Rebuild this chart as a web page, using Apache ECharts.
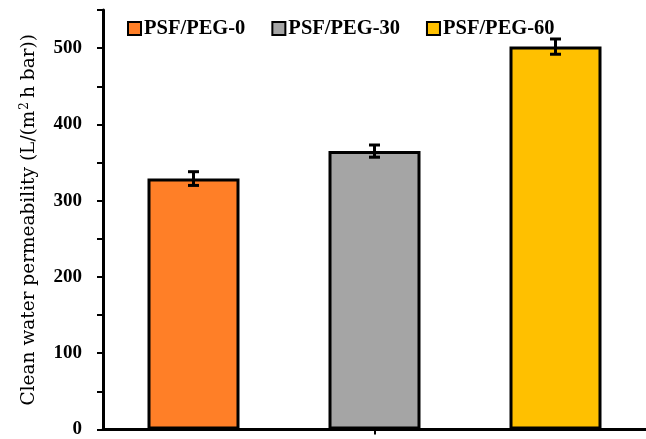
<!DOCTYPE html>
<html><head><meta charset="utf-8">
<script src="https://cdn.jsdelivr.net/npm/echarts@6/dist/echarts.min.js"></script>
<style>html,body{margin:0;padding:0;background:#fff}#c{width:646px;height:439px}</style>
</head><body><div id="c"></div>
<script>
const categories = ['PSF/PEG-0', 'PSF/PEG-30', 'PSF/PEG-60'];
const values = [329, 365, 502];
const errors = [9, 8, 10];
const colors = ['#FF7F27', '#A5A5A5', '#FFC000'];
const yTicks = [0, 100, 200, 300, 400, 500];

const chart = echarts.init(document.getElementById('c'));
const serif = 'Liberation Serif';
const series = categories.map((name, i) => ({
  name: name,
  type: 'bar',
  barWidth: 92,
  barGap: '-100%',
  itemStyle: { color: colors[i], borderColor: '#000', borderWidth: 3 },
  data: categories.map((c, j) => j === i ? values[i] : null)
}));
series.push({
  type: 'custom',
  silent: true,
  z: 10,
  data: values.map((v, i) => [i, v, errors[i]]),
  renderItem: function (params, api) {
    const x = api.value(0), v = api.value(1), e = api.value(2);
    const top = api.coord([x, v + e]);
    const bot = api.coord([x, v - e]);
    const hw = 5.5;
    const st = { stroke: '#000', lineWidth: 3 };
    return { type: 'group', children: [
      { type: 'line', shape: { x1: top[0], y1: top[1], x2: bot[0], y2: bot[1] }, style: st },
      { type: 'line', shape: { x1: top[0] - hw, y1: top[1], x2: top[0] + hw, y2: top[1] }, style: st },
      { type: 'line', shape: { x1: bot[0] - hw, y1: bot[1], x2: bot[0] + hw, y2: bot[1] }, style: st }
    ]};
  }
});

chart.setOption({
  animation: false,
  backgroundColor: '#fff',
  grid: { left: 103, width: 554, top: 10, bottom: 6, containLabel: false },
  legend: {
    top: 13, left: 122,
    itemWidth: 13, itemHeight: 13, itemGap: 26,
    icon: 'rect',
    itemStyle: { borderColor: '#000', borderWidth: 2 },
    textStyle: { fontFamily: serif, fontWeight: 'bold', fontSize: 20.5, color: '#000', padding: [0, 0, 0, -2] },
    data: categories
  },
  xAxis: {
    type: 'category',
    data: categories,
    axisLine: { lineStyle: { color: '#000', width: 3 } },
    axisTick: { show: true, alignWithLabel: true, length: 5, lineStyle: { color: '#000', width: 2 },
      interval: function (idx) { return idx === 1; } },
    axisLabel: { show: false }
  },
  yAxis: {
    type: 'value',
    min: 0, max: 550, interval: 50,
    name: '{a|Clean water permeability (L/(m}{s|2}{a|h bar))}',
    nameLocation: 'middle',
    nameGap: 64,
    nameRotate: 90,
    nameTextStyle: {
      rich: {
        a: { fontFamily: 'DejaVu Serif', fontSize: 18.5, color: '#000' },
        s: { fontFamily: 'DejaVu Serif', fontSize: 12, color: '#000', verticalAlign: 'top', padding: [0, 4, 8, 1] }
      }
    },
    splitLine: { show: false },
    axisLine: { show: true, lineStyle: { color: '#000', width: 3 } },
    axisTick: { show: true, length: 6, lineStyle: { color: '#000', width: 2 } },
    axisLabel: {
      margin: 21,
      fontFamily: serif, fontWeight: 'bold', fontSize: 19, color: '#000',
      formatter: function (v) { return yTicks.indexOf(v) >= 0 ? String(v) : ''; }
    }
  },
  series: series
});
</script></body></html>
